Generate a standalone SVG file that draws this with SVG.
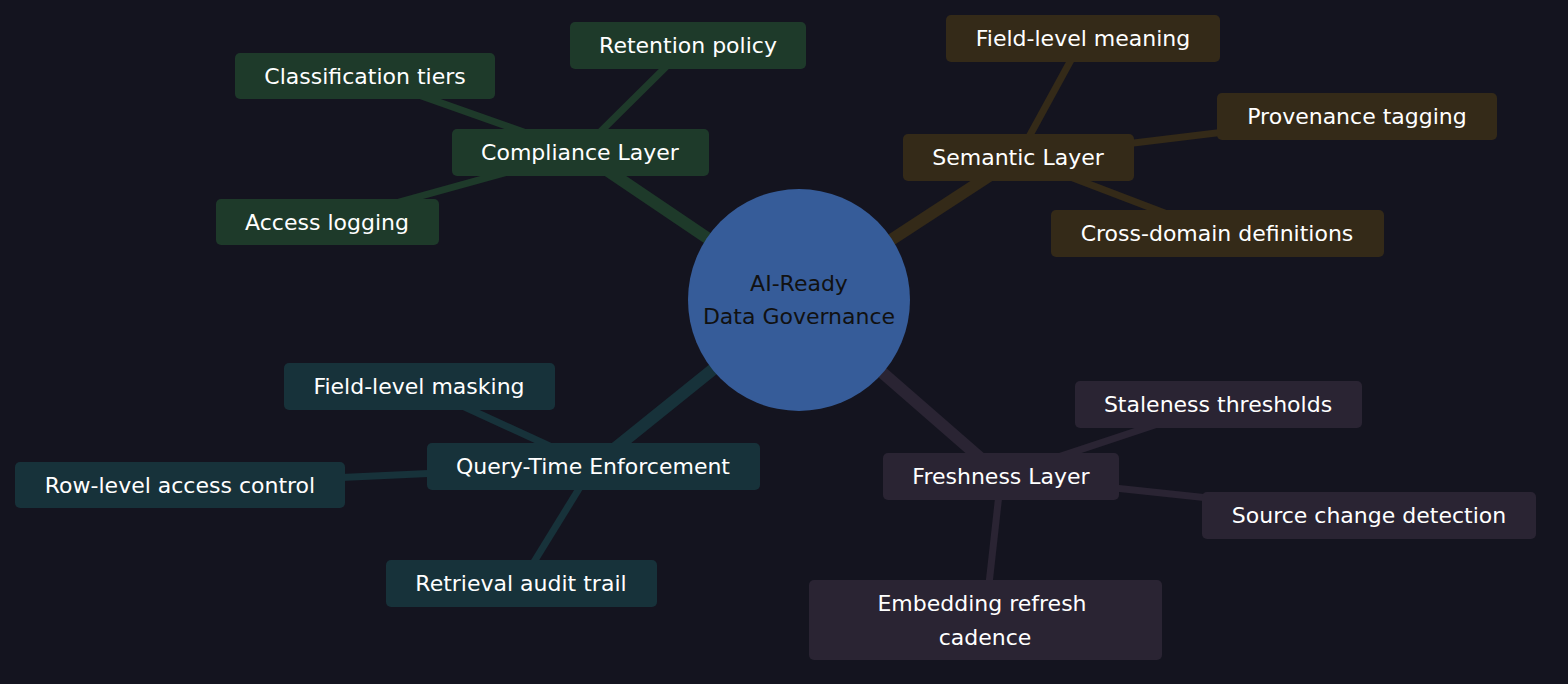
<svg xmlns="http://www.w3.org/2000/svg" width="1568" height="684" viewBox="0 0 1568 684">
<style>
text{font-family:"DejaVu Sans","Liberation Sans",sans-serif;font-size:22px;text-anchor:middle;dominant-baseline:central;fill:#ffffff}
.c text{fill:#111}
.e{fill:none;stroke-linecap:butt}
.m{stroke-width:12}
.s{stroke-width:7}
.g{stroke:#1e3a2a}.gf{fill:#1e3a2a}
.b{stroke:#342a18}.bf{fill:#342a18}
.t{stroke:#17323a}.tf{fill:#17323a}
.p{stroke:#2a2433}.pf{fill:#2a2433}
</style>
<rect width="1568" height="684" fill="#14141f"/>
<g id="connectors">
<line class="e m g" x1="799" y1="300" x2="580" y2="152"/>
<line class="e s g" x1="580" y1="152" x2="365" y2="76"/>
<line class="e s g" x1="580" y1="152" x2="688" y2="45"/>
<line class="e s g" x1="580" y1="152" x2="327" y2="222"/>
<line class="e m b" x1="799" y1="300" x2="1018" y2="157"/>
<line class="e s b" x1="1018" y1="157" x2="1083" y2="38"/>
<line class="e s b" x1="1018" y1="157" x2="1357" y2="116"/>
<line class="e s b" x1="1018" y1="157" x2="1217" y2="233"/>
<line class="e m t" x1="799" y1="300" x2="593" y2="466"/>
<line class="e s t" x1="593" y1="466" x2="419" y2="386"/>
<line class="e s t" x1="593" y1="466" x2="180" y2="485"/>
<line class="e s t" x1="593" y1="466" x2="521" y2="583"/>
<line class="e m p" x1="799" y1="300" x2="1001" y2="476"/>
<line class="e s p" x1="1001" y1="476" x2="1218" y2="404"/>
<line class="e s p" x1="1001" y1="476" x2="1369" y2="515"/>
<line class="e s p" x1="1001" y1="476" x2="985" y2="620"/>
</g>
<g id="root" class="c"><circle cx="799" cy="300" r="111" fill="#365c99"/><text x="799" y="283">AI-Ready</text><text x="799" y="316">Data Governance</text></g>
<g id="compliance"><rect class="gf" x="452" y="129" width="257" height="47" rx="5"/><text x="580" y="152">Compliance Layer</text></g>
<g id="retention"><rect class="gf" x="570" y="22" width="236" height="47" rx="5"/><text x="688" y="45">Retention policy</text></g>
<g id="classification"><rect class="gf" x="235" y="53" width="260" height="46" rx="5"/><text x="365" y="76">Classification tiers</text></g>
<g id="access-logging"><rect class="gf" x="216" y="199" width="223" height="46" rx="5"/><text x="327" y="222">Access logging</text></g>
<g id="semantic"><rect class="bf" x="903" y="134" width="231" height="47" rx="5"/><text x="1018" y="157">Semantic Layer</text></g>
<g id="field-meaning"><rect class="bf" x="946" y="15" width="274" height="47" rx="5"/><text x="1083" y="38">Field-level meaning</text></g>
<g id="provenance"><rect class="bf" x="1217" y="93" width="280" height="47" rx="5"/><text x="1357" y="116">Provenance tagging</text></g>
<g id="cross-domain"><rect class="bf" x="1051" y="210" width="333" height="47" rx="5"/><text x="1217" y="233">Cross-domain definitions</text></g>
<g id="query-time"><rect class="tf" x="427" y="443" width="333" height="47" rx="5"/><text x="593" y="466">Query-Time Enforcement</text></g>
<g id="field-masking"><rect class="tf" x="284" y="363" width="271" height="47" rx="5"/><text x="419" y="386">Field-level masking</text></g>
<g id="row-level"><rect class="tf" x="15" y="462" width="330" height="46" rx="5"/><text x="180" y="485">Row-level access control</text></g>
<g id="retrieval"><rect class="tf" x="386" y="560" width="271" height="47" rx="5"/><text x="521" y="583">Retrieval audit trail</text></g>
<g id="freshness"><rect class="pf" x="883" y="453" width="236" height="47" rx="5"/><text x="1001" y="476">Freshness Layer</text></g>
<g id="staleness"><rect class="pf" x="1075" y="381" width="287" height="47" rx="5"/><text x="1218" y="404">Staleness thresholds</text></g>
<g id="source-change"><rect class="pf" x="1202" y="492" width="334" height="47" rx="5"/><text x="1369" y="515">Source change detection</text></g>
<g id="embedding"><rect class="pf" x="809" y="580" width="353" height="80" rx="5"/><text x="982" y="603">Embedding refresh</text><text x="985" y="637">cadence</text></g>
</svg>
